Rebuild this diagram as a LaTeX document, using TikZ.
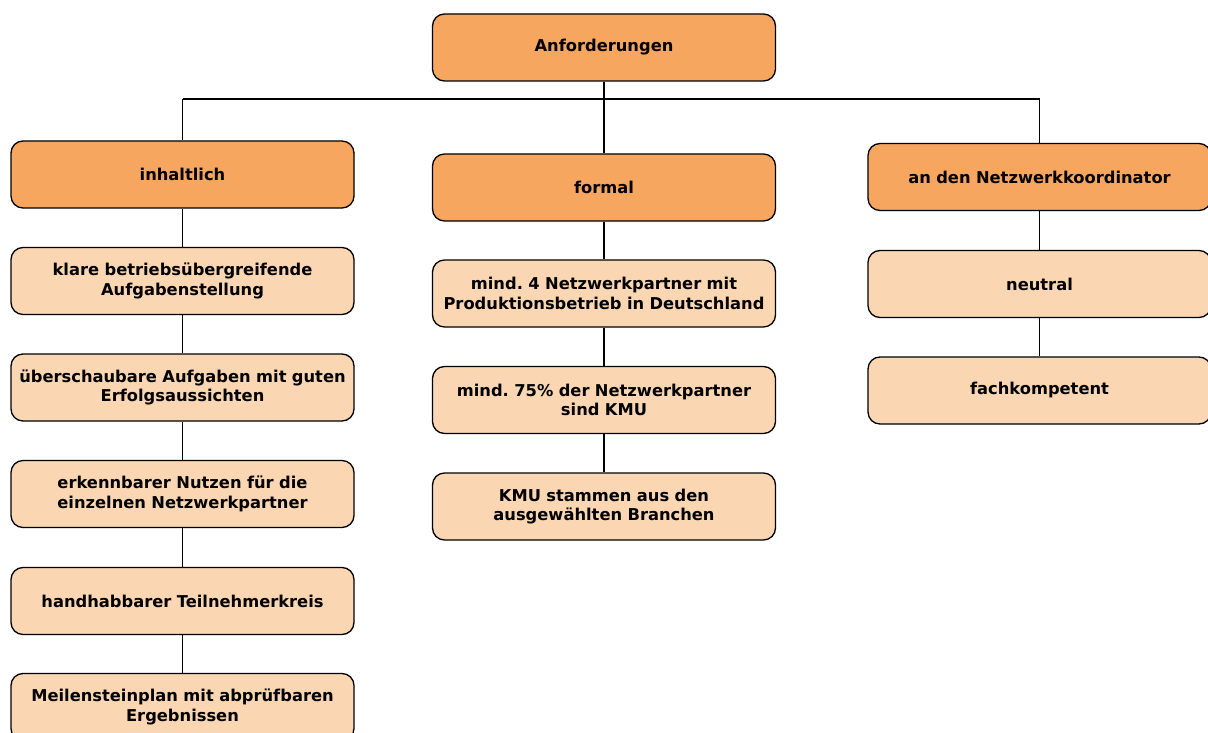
\documentclass[tikz,border=0pt]{standalone}
\usepackage{fontspec}
\setmainfont{DejaVu Sans}
\frenchspacing
\definecolor{darkor}{RGB}{247,166,95}
\definecolor{lightor}{RGB}{251,214,178}
\begin{document}
\begin{tikzpicture}[x=1pt,y=-1pt,
  box/.style={draw=black,line width=1.3pt,rounded corners=12pt,minimum width=343pt,minimum height=67pt,text width=336pt,align=center,font=\fontsize{16.3}{19.5}\selectfont\bfseries,inner sep=0pt},
  head/.style={box,fill=darkor},
  item/.style={box,fill=lightor},
  conn/.style={line width=1.3pt}]
\useasboundingbox (0,0) rectangle (1208,733);
\fill[white] (0,0) rectangle (1208,733);
\node[head] (root) at (604,47.5) {Anforderungen};
\node[head] (inh) at (182.5,174.5) {inhaltlich};
\node[head] (for) at (604,187.5) {formal};
\node[head] (net) at (1039.5,177) {an den Netzwerkkoordinator};
\node[item] (l1) at (182.5,281) {klare betriebsübergreifende\\Aufgabenstellung};
\node[item] (l2) at (182.5,387.5) {überschaubare Aufgaben mit guten\\Erfolgsaussichten};
\node[item] (l3) at (182.5,494) {erkennbarer Nutzen für die\\einzelnen Netzwerkpartner};
\node[item] (l4) at (182.5,601) {handhabbarer Teilnehmerkreis};
\node[item] (l5) at (182.5,707) {Meilensteinplan mit abprüfbaren\\Ergebnissen};
\node[item] (m1) at (604,293.5) {mind. 4 Netzwerkpartner mit\\Produktionsbetrieb in Deutschland};
\node[item] (m2) at (604,400) {mind. 75\% der Netzwerkpartner\\sind KMU};
\node[item] (m3) at (604,506.5) {KMU stammen aus den\\ausgewählten Branchen};
\node[item] (r1) at (1039.5,284) {neutral};
\node[item] (r2) at (1039.5,390.5) {fachkompetent};
\coordinate (busL) at (inh.north |- 0,99);
\coordinate (busM) at (root.south |- 0,99);
\coordinate (busR) at (net.north |- 0,99);
\draw[conn] (busL) -- (busR);
\draw[conn] (root.south) -- (for.north);
\draw[conn] (busL) -- (inh.north);
\draw[conn] (busR) -- (net.north);
\draw[conn] (inh) -- (l1);
\draw[conn] (l1) -- (l2);
\draw[conn] (l2) -- (l3);
\draw[conn] (l3) -- (l4);
\draw[conn] (l4) -- (l5);
\draw[conn] (for) -- (m1);
\draw[conn] (m1) -- (m2);
\draw[conn] (m2) -- (m3);
\draw[conn] (net) -- (r1);
\draw[conn] (r1) -- (r2);
\end{tikzpicture}
\end{document}
